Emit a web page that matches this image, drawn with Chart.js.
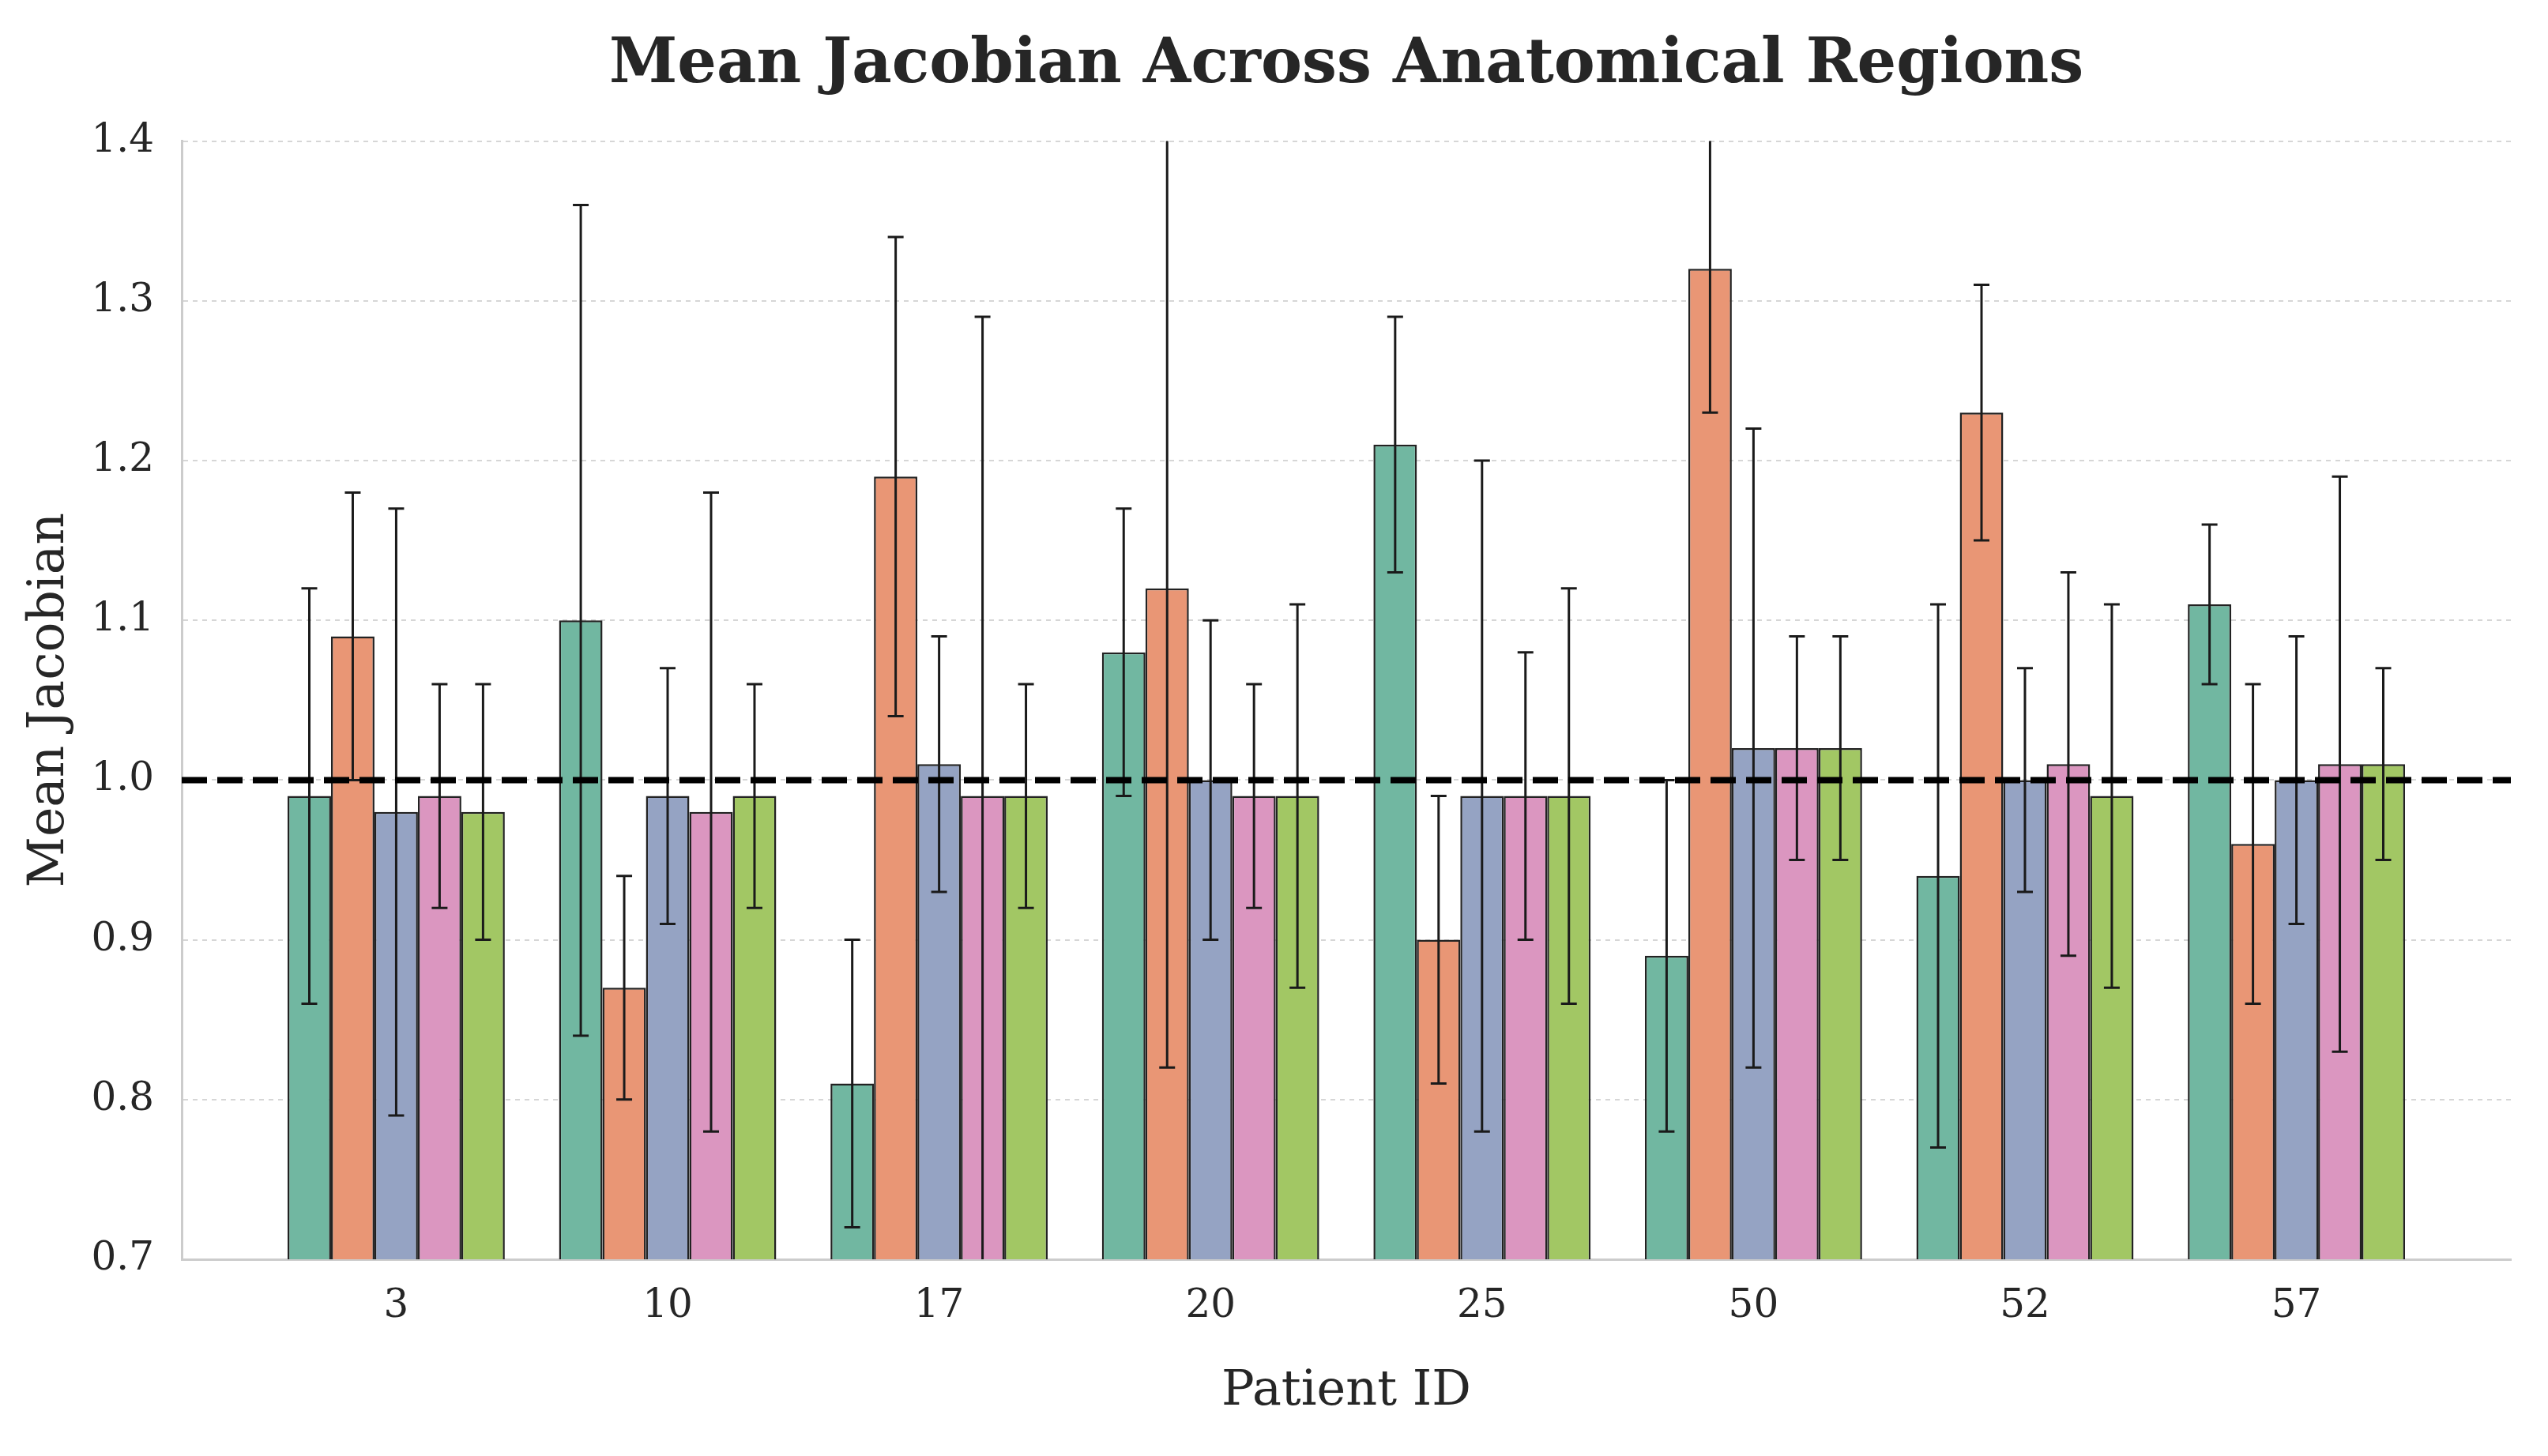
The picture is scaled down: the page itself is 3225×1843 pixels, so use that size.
<!DOCTYPE html>
<html>
<head>
<meta charset="utf-8">
<script src="https://cdn.jsdelivr.net/npm/chart.js@4/dist/chart.umd.min.js"></script>
<style>
  html, body { margin: 0; padding: 0; background: #fff; }
  canvas { display: block; }
</style>
</head>
<body>
<canvas id="chart" width="3225" height="1843"></canvas>
<script>
// Patient IDs on the x axis
var patients = ['3', '10', '17', '20', '25', '50', '52', '57'];
// one series per anatomical region (no legend in the figure)
var regions = ['Region 1', 'Region 2', 'Region 3', 'Region 4', 'Region 5'];
// mean jacobian per region, one value per patient
var region1Mean = [0.99, 1.10, 0.81, 1.08, 1.21, 0.89, 0.94, 1.11];
var region2Mean = [1.09, 0.87, 1.19, 1.12, 0.90, 1.32, 1.23, 0.96];
var region3Mean = [0.98, 0.99, 1.01, 1.00, 0.99, 1.02, 1.00, 1.00];
var region4Mean = [0.99, 0.98, 0.99, 0.99, 0.99, 1.02, 1.01, 1.01];
var region5Mean = [0.98, 0.99, 0.99, 0.99, 0.99, 1.02, 0.99, 1.01];
// error (std) per region
var region1Err = [0.13, 0.26, 0.09, 0.09, 0.08, 0.11, 0.17, 0.05];
var region2Err = [0.09, 0.07, 0.15, 0.30, 0.09, 0.09, 0.08, 0.10];
var region3Err = [0.19, 0.08, 0.08, 0.10, 0.21, 0.20, 0.07, 0.09];
var region4Err = [0.07, 0.20, 0.30, 0.07, 0.09, 0.07, 0.12, 0.18];
var region5Err = [0.08, 0.07, 0.07, 0.12, 0.13, 0.07, 0.12, 0.06];
// y axis ticks
var yTicks = [0.7, 0.8, 0.9, 1.0, 1.1, 1.2, 1.3, 1.4];
var refLine = 1.0;

var means = [region1Mean, region2Mean, region3Mean, region4Mean, region5Mean];
var errs = [region1Err, region2Err, region3Err, region4Err, region5Err];
// seaborn Set2, desaturated
var colors = ['#71b7a1', '#e99675', '#95a3c3', '#db96c0', '#a2c764'];

var font = "'DejaVu Serif', 'Liberation Serif', serif";
var textColor = '#262626';

var datasets = [];
for (var s = 0; s < means.length; s++) {
	var pts = [];
	for (var i = 0; i < patients.length; i++) {
		pts.push({x: i, y: means[s][i]});
	}
	datasets.push({
		label: regions[s],
		data: pts,
		backgroundColor: colors[s],
		borderColor: '#222',
		borderWidth: 2.5,
		borderSkipped: false,
		categoryPercentage: 0.8,
		barPercentage: 1.0
	});
}

// error bars + dashed line at 1.0
var overlay = {
	id: 'overlay',
	afterDatasetsDraw: function(chart) {
		var ctx = chart.ctx;
		var area = chart.chartArea;
		var y = chart.scales.y;
		ctx.save();
		ctx.beginPath();
		ctx.rect(area.left, area.top, area.right - area.left, area.bottom - area.top);
		ctx.clip();
		ctx.strokeStyle = '#1a1a1a';
		ctx.lineWidth = 3;
		for (var s = 0; s < chart.data.datasets.length; s++) {
			var meta = chart.getDatasetMeta(s);
			for (var i = 0; i < meta.data.length; i++) {
				var bx = meta.data[i].x;
				var top = y.getPixelForValue(means[s][i] + errs[s][i]);
				var bot = y.getPixelForValue(means[s][i] - errs[s][i]);
				ctx.beginPath();
				ctx.moveTo(bx, top);
				ctx.lineTo(bx, bot);
				ctx.moveTo(bx - 10, top);
				ctx.lineTo(bx + 10, top);
				ctx.moveTo(bx - 10, bot);
				ctx.lineTo(bx + 10, bot);
				ctx.stroke();
			}
		}
		var ry = y.getPixelForValue(refLine);
		ctx.strokeStyle = '#000';
		ctx.lineWidth = 8;
		ctx.setLineDash([32, 13]);
		ctx.beginPath();
		ctx.moveTo(area.left, ry);
		ctx.lineTo(area.right, ry);
		ctx.stroke();
		ctx.restore();
	}
};

var config = {
	type: 'bar',
	data: { datasets: datasets },
	options: {
		responsive: false,
		animation: false,
		devicePixelRatio: 1,
		layout: { padding: { left: 0, right: 47, top: 0, bottom: 0 } },
		plugins: {
			legend: { display: false },
			tooltip: { enabled: false },
			title: {
				display: true,
				text: 'Mean Jacobian Across Anatomical Regions',
				color: textColor,
				fullSize: false,
				font: { family: font, size: 78, weight: 'bold' },
				padding: { top: 37, bottom: 48 }
			}
		},
		scales: {
			x: {
				type: 'linear',
				offset: false,
				min: -0.79,
				max: 7.79,
				grid: { display: false, offset: false },
				border: { display: true, color: '#cccccc', width: 3 },
				ticks: {
					stepSize: 1,
					includeBounds: false,
					autoSkip: false,
					maxRotation: 0,
					padding: 22,
					color: textColor,
					font: { family: font, size: 50 },
					callback: function(v) {
						return Number.isInteger(v) && patients[v] !== undefined ? patients[v] : '';
					}
				},
				title: {
					display: true,
					text: 'Patient ID',
					color: textColor,
					font: { family: font, size: 62 },
					padding: { top: 0, bottom: 44 }
				},
				afterFit: function(scale) { scale.height = 249; }
			},
			y: {
				min: yTicks[0],
				max: yTicks[yTicks.length - 1],
				afterBuildTicks: function(scale) {
					scale.ticks = yTicks.map(function(v) { return {value: v}; });
				},
				grid: {
					color: 'rgba(204,204,204,0.8)',
					lineWidth: 2,
					drawTicks: false
				},
				border: { display: true, color: '#cccccc', width: 3, dash: [6, 6], dashOffset: 0 },
				ticks: {
					padding: 35,
					color: textColor,
					font: { family: font, size: 50 },
					callback: function(v) { return Number(v).toFixed(1); }
				},
				title: {
					display: true,
					text: 'Mean Jacobian',
					color: textColor,
					font: { family: font, size: 63 },
					padding: { top: 26, bottom: 0 }
				},
				afterFit: function(scale) { scale.width = 230; }
			}
		}
	},
	plugins: [overlay]
};

window.myChart = new Chart(document.getElementById('chart').getContext('2d'), config);
</script>
</body>
</html>
